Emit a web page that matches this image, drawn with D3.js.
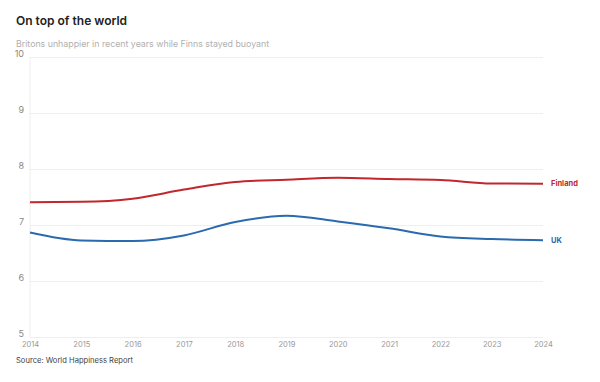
<!DOCTYPE html>
<html><head><meta charset="utf-8">
<script src="https://cdn.jsdelivr.net/npm/d3@7"></script>
<style>body{margin:0;background:#fff;font-family:Inter,"Open Sans",sans-serif;}</style>
</head><body><svg id="c" width="600" height="382"></svg>
<script>
const years = [2014,2015,2016,2017,2018,2019,2020,2021,2022,2023,2024];
const finland = [7.406,7.413,7.469,7.632,7.769,7.809,7.842,7.821,7.804,7.741,7.736];
const uk = [6.867,6.725,6.714,6.814,7.054,7.165,7.064,6.943,6.796,6.749,6.728];
const yTicks = [5,6,7,8,9,10];
const seriesNames = ["Finland","UK"];
const seriesColors = ["#c1272d","#2a6aae"];

const svg = d3.select("#c");
const x = d3.scaleLinear().domain([2014,2024]).range([30,543]);
const y = d3.scaleLinear().domain([5,10]).range([337,57]);

svg.append("text").attr("x",16).attr("y",25).text("On top of the world")
  .attr("font-size",12).attr("font-weight",600).attr("fill","#222");
svg.append("text").attr("x",16).attr("y",47).text("Britons unhappier in recent years while Finns stayed buoyant")
  .attr("font-size",8.8).attr("fill","#b0b0b0");

const yAxis = svg.append("g").attr("transform","translate(30,0)")
  .call(d3.axisLeft(y).tickValues(yTicks).tickSize(-513).tickFormat(d3.format("d")));
yAxis.select(".domain").remove();
yAxis.selectAll("line").attr("stroke","#eee");
yAxis.selectAll("text").attr("fill","#888").attr("font-size",9).attr("font-family","Inter,sans-serif")
  .attr("x",-6).attr("dy","-0.05em");

svg.append("line").attr("x1",30).attr("x2",30).attr("y1",y(10)).attr("y2",y(5)).attr("stroke","#eee");

const xAxis = svg.append("g").attr("transform","translate(0,"+y(5)+")")
  .call(d3.axisBottom(x).tickValues(years).tickSize(0).tickFormat(d3.format("d")));
xAxis.select(".domain").remove();
xAxis.selectAll("text").attr("fill","#999").attr("font-size",7.5).attr("font-family","Inter,sans-serif").attr("dy","0.95em");

const line = d3.line().x((d,i)=>x(years[i])).y(d=>y(d)).curve(d3.curveMonotoneX);
[finland,uk].forEach((s,k)=>{
  svg.append("path").attr("d",line(s)).attr("fill","none").attr("stroke",seriesColors[k]).attr("stroke-width",2);
  svg.append("text").attr("x",x(2024)+8).attr("y",y(s[s.length-1])).attr("dy","0.35em")
    .text(seriesNames[k]).attr("fill",seriesColors[k]).attr("font-size",7.5).attr("font-weight",700);
});

svg.append("text").attr("x",16).attr("y",363).text("Source: World Happiness Report")
  .attr("font-size",7.6).attr("fill","#444");
</script></body></html>
